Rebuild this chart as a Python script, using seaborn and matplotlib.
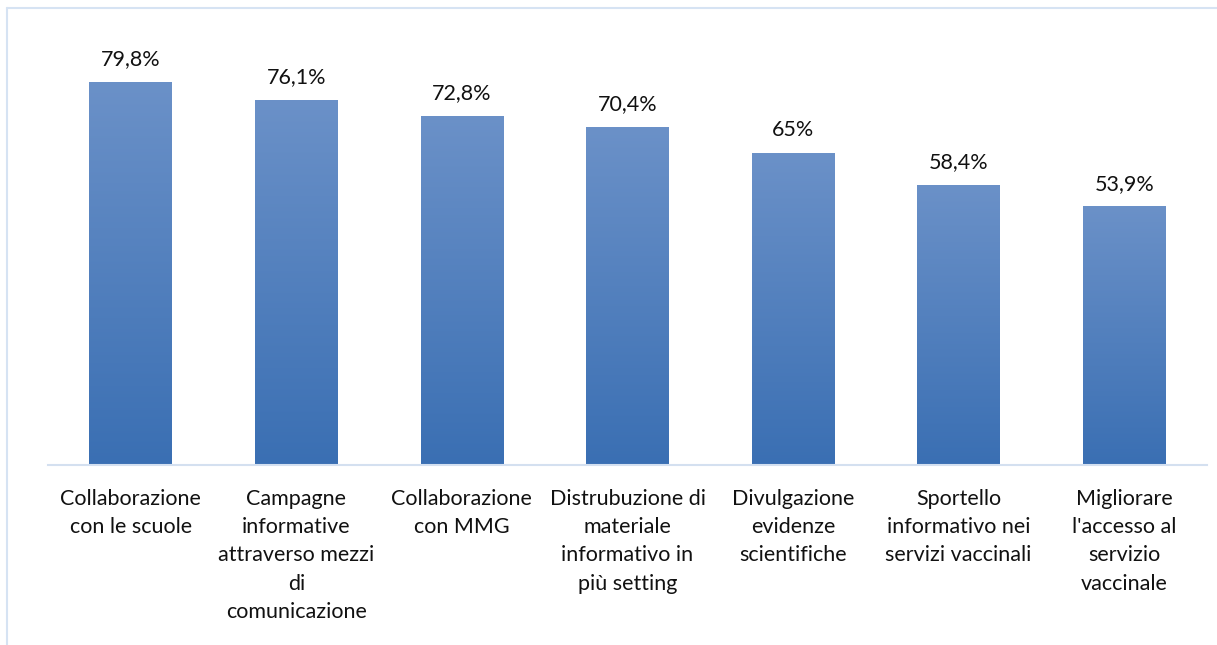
import numpy as np
import pandas as pd
import matplotlib
matplotlib.use("Agg")
import matplotlib.pyplot as plt
from matplotlib.colors import LinearSegmentedColormap
from matplotlib.patches import Rectangle
import seaborn as sns

categories = [
    "Collaborazione\ncon le scuole",
    "Campagne\ninformative\nattraverso mezzi\ndi\ncomunicazione",
    "Collaborazione\ncon MMG",
    "Distrubuzione di\nmateriale\ninformativo in\npiù setting",
    "Divulgazione\nevidenze\nscientifiche",
    "Sportello\ninformativo nei\nservizi vaccinali",
    "Migliorare\nl'accesso al\nservizio\nvaccinale",
]
values = [79.8, 76.1, 72.8, 70.4, 65.0, 58.4, 53.9]
value_labels = ["79,8%", "76,1%", "72,8%", "70,4%", "65%", "58,4%", "53,9%"]

sns.set_theme(style="white")
plt.rcParams["font.family"] = ["Lato", "DejaVu Sans"]

W, H = 1217, 645
fig = plt.figure(figsize=(W / 100, H / 100), dpi=100)
ax = fig.add_axes([48 / W, 1 - 465 / H, (1207 - 48) / W, (465 - 30) / H])

df = pd.DataFrame({"cat": categories, "val": values})
sns.barplot(data=df, x="cat", y="val", ax=ax, width=0.5, color="#4f81bd",
            saturation=1)

ymax = 435 / 4.8
ax.set_ylim(0, ymax)
ax.set_xlim(-0.5, len(categories) - 0.5)

# vertical gradient inside each bar: lighter at the top, deeper at the base
cmap = LinearSegmentedColormap.from_list("bar", ["#3a6fb3", "#6b91c8"])
grad = np.linspace(0, 1, 256).reshape(-1, 1)
for patch in list(ax.patches):
    x0, y0 = patch.get_x(), patch.get_y()
    w, h = patch.get_width(), patch.get_height()
    patch.set_alpha(0)
    im = ax.imshow(grad, cmap=cmap, origin="lower", aspect="auto",
                   extent=[x0, x0 + w, y0, y0 + h], zorder=2)
    clip = Rectangle((x0, y0), w, h, transform=ax.transData)
    im.set_clip_path(clip)

ax.set_aspect("auto")
ax.set_xlim(-0.5, len(categories) - 0.5)
ax.set_ylim(0, ymax)

for i, (v, lab) in enumerate(zip(values, value_labels)):
    ax.annotate(lab, (i, v), xytext=(0, 9), textcoords="offset points",
                ha="center", va="bottom", fontsize=15.5, color="#111111")

ax.set_xlabel("")
ax.set_ylabel("")
ax.set_yticks([])
ax.tick_params(axis="x", length=0, pad=17)
for t in ax.get_xticklabels():
    t.set_fontsize(15.5)
    t.set_color("#111111")
    t.set_linespacing(1.52)
    t.set_verticalalignment("top")

for s in ["top", "right", "left"]:
    ax.spines[s].set_visible(False)
ax.spines["bottom"].set_color("#d4e0f0")
ax.spines["bottom"].set_linewidth(1.5)

# light outer frame
fig.add_artist(plt.Line2D([7 / W, 7 / W], [0, 1 - 8 / H],
                          transform=fig.transFigure, color="#d6e3f3", lw=1.5))
fig.add_artist(plt.Line2D([7 / W, 1], [1 - 8 / H, 1 - 8 / H],
                          transform=fig.transFigure, color="#d6e3f3", lw=1.5))

fig.savefig("out.png", dpi=100)
